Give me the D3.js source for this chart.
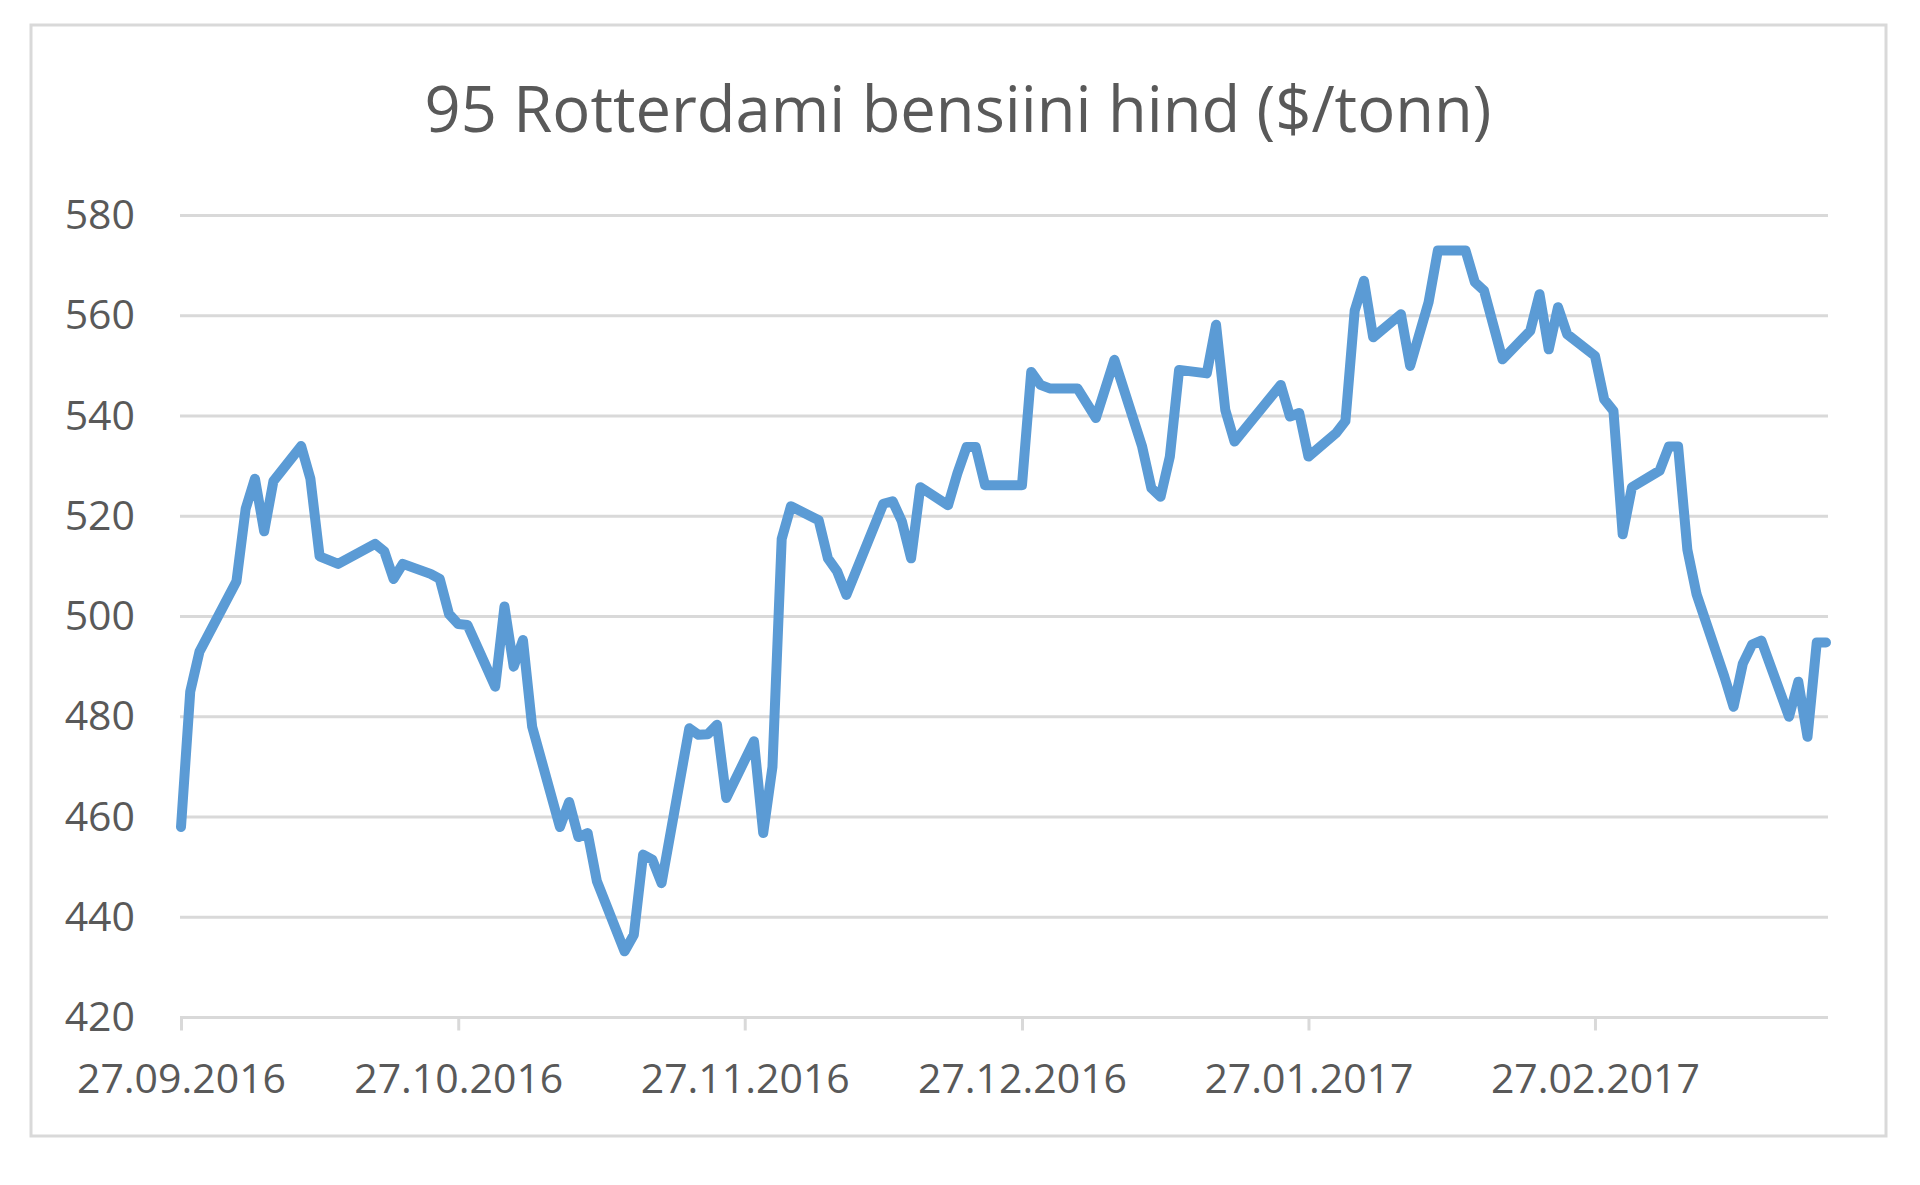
<!DOCTYPE html>
<html>
<head>
<meta charset="utf-8">
<script src="https://cdn.jsdelivr.net/npm/d3@7"></script>
<style>
    body { margin: 0; background: #fff; }
    svg { display: block; font-family: "Open Sans", sans-serif; }
</style>
</head>
<body>
<div id="chart"></div>
<script>
const title = "95 Rotterdami bensiini hind ($/tonn)";

// trading days (dd.mm.yyyy)
const dates = [
    "27.09.2016", "28.09.2016", "29.09.2016", "03.10.2016", "04.10.2016", "05.10.2016", "06.10.2016", "07.10.2016",
    "10.10.2016", "11.10.2016", "12.10.2016", "14.10.2016", "18.10.2016", "19.10.2016", "20.10.2016", "21.10.2016",
    "24.10.2016", "25.10.2016", "26.10.2016", "27.10.2016", "28.10.2016", "31.10.2016", "01.11.2016", "02.11.2016",
    "03.11.2016", "04.11.2016", "07.11.2016", "08.11.2016", "09.11.2016", "10.11.2016", "11.11.2016", "14.11.2016",
    "15.11.2016", "16.11.2016", "17.11.2016", "18.11.2016", "21.11.2016", "22.11.2016", "23.11.2016", "24.11.2016",
    "25.11.2016", "28.11.2016", "29.11.2016", "30.11.2016", "01.12.2016", "02.12.2016", "05.12.2016", "06.12.2016",
    "07.12.2016", "08.12.2016", "12.12.2016", "13.12.2016", "14.12.2016", "15.12.2016", "16.12.2016", "19.12.2016",
    "20.12.2016", "21.12.2016", "22.12.2016", "23.12.2016", "27.12.2016", "28.12.2016", "29.12.2016", "30.12.2016",
    "02.01.2017", "04.01.2017", "06.01.2017", "09.01.2017", "10.01.2017", "11.01.2017", "12.01.2017", "13.01.2017",
    "16.01.2017", "17.01.2017", "18.01.2017", "19.01.2017", "24.01.2017", "25.01.2017", "26.01.2017", "27.01.2017",
    "30.01.2017", "31.01.2017", "01.02.2017", "02.02.2017", "03.02.2017", "06.02.2017", "07.02.2017", "09.02.2017",
    "10.02.2017", "13.02.2017", "14.02.2017", "15.02.2017", "17.02.2017", "20.02.2017", "21.02.2017", "22.02.2017",
    "23.02.2017", "24.02.2017", "27.02.2017", "28.02.2017", "01.03.2017", "02.03.2017", "03.03.2017", "06.03.2017",
    "07.03.2017", "08.03.2017", "09.03.2017", "10.03.2017", "13.03.2017", "14.03.2017", "15.03.2017", "16.03.2017",
    "17.03.2017", "20.03.2017", "21.03.2017", "22.03.2017", "23.03.2017", "24.03.2017"
];

const prices = [
    458, 485, 493, 507, 521.5, 527.5, 517, 527,
    534, 527.5, 512, 510.5, 514.5, 513, 507.5, 510.5,
    508.5, 507.5, 500.5, 498.5, 498.3, 486, 502, 490,
    495.3, 478, 458, 463, 456, 456.8, 447.2, 433.2,
    436.5, 452.5, 451.5, 446.8, 477.7, 476.4, 476.5, 478.4,
    463.8, 475.1, 456.8, 470, 515.5, 522, 519.2, 511.6,
    509, 504.3, 522.5, 523, 519, 511.6, 525.8, 522.2,
    528.5, 533.8, 533.8, 526.2, 526.2, 548.8, 546.2, 545.5,
    545.5, 539.6, 551.2, 533.9, 525.6, 523.9, 531.9, 549.2,
    548.5, 558.2, 541.2, 534.9, 546.2, 539.9, 540.6, 531.9,
    536.6, 539, 561, 567, 555.7, 560.3, 550, 562.7,
    573, 573, 566.7, 565, 551.3, 557, 564.3, 553.3,
    561.7, 556.3, 552, 543.3, 541, 516.4, 525.8, 529.1,
    533.9, 533.9, 513.3, 504.4, 488, 482, 490.6, 494.4,
    495.2, 480, 487, 476, 494.8, 494.8
];

const xTicks = ["27.09.2016", "27.10.2016", "27.11.2016", "27.12.2016", "27.01.2017", "27.02.2017"];
const yTicks = [420, 440, 460, 480, 500, 520, 540, 560, 580];

const colors = {
    line: "#5b9bd5",
    grid: "#d9d9d9",
    text: "#595959",
    border: "#d9d9d9"
};

const
    W = 1920,
    H = 1185,
    plot = { left: 181, right: 1826, top: 215.5, bottom: 1017.5 };

const parse = d3.timeParse("%d.%m.%Y");
const data = dates.map((d, i) => ({ date: parse(d), value: prices[i] }));

const svg = d3.select("#chart")
    .append("svg")
    .attr("viewBox", [0, 0, W, H])
    .attr("width", W)
    .attr("height", H);

svg.append("rect")
    .attr("width", W)
    .attr("height", H)
    .attr("fill", "#fff");

// chart area frame
svg.append("rect")
    .attr("x", 31)
    .attr("y", 25)
    .attr("width", 1855)
    .attr("height", 1111)
    .attr("fill", "none")
    .attr("stroke", colors.border)
    .attr("stroke-width", 3);

const x = d3.scaleTime()
    .domain([parse(dates[0]), parse(dates[dates.length - 1])])
    .range([plot.left, plot.right]);

const y = d3.scaleLinear()
    .domain([420, 580])
    .range([plot.bottom, plot.top]);

// gridlines
svg.append("g")
    .selectAll("line")
    .data(yTicks.slice(1))
    .join("line")
    .attr("x1", plot.left - 1)
    .attr("x2", plot.right + 2)
    .attr("y1", d => y(d))
    .attr("y2", d => y(d))
    .attr("stroke", colors.grid)
    .attr("stroke-width", 3);

// y axis labels
const yAxis = svg.append("g")
    .attr("transform", `translate(${plot.left},0)`)
    .call(d3.axisLeft(y).tickValues(yTicks).tickSize(0).tickPadding(46));
yAxis.select(".domain").remove();
yAxis.selectAll("text")
    .attr("fill", colors.text)
    .attr("font-size", 41)
    .attr("font-family", "'Open Sans', sans-serif");

// x axis
const xAxis = svg.append("g")
    .attr("transform", `translate(0,${plot.bottom})`)
    .call(d3.axisBottom(x)
        .tickValues(xTicks.map(parse))
        .tickFormat(d3.timeFormat("%d.%m.%Y"))
        .tickSize(13)
        .tickSizeOuter(0)
        .tickPadding(33));
xAxis.select(".domain")
    .attr("stroke", colors.grid)
    .attr("stroke-width", 3)
    .attr("d", `M${plot.left - 1},0H${plot.right + 2}`);
xAxis.selectAll(".tick line")
    .attr("stroke", colors.grid)
    .attr("stroke-width", 3);
xAxis.selectAll("text")
    .attr("fill", colors.text)
    .attr("font-size", 41)
    .attr("font-family", "'Open Sans', sans-serif");

// price line
const line = d3.line()
    .x(d => x(d.date))
    .y(d => y(d.value));

svg.append("path")
    .datum(data)
    .attr("d", line)
    .attr("fill", "none")
    .attr("stroke", colors.line)
    .attr("stroke-width", 10)
    .attr("stroke-linejoin", "round")
    .attr("stroke-linecap", "round");

// title, sized to the width it has in the original
const titleText = svg.append("text")
    .attr("x", 958)
    .attr("y", 132)
    .attr("text-anchor", "middle")
    .attr("fill", colors.text)
    .attr("font-size", 60)
    .text(title);
const tw = titleText.node().getComputedTextLength();
titleText.attr("font-size", 60 * 1067 / tw);
</script>
</body>
</html>
